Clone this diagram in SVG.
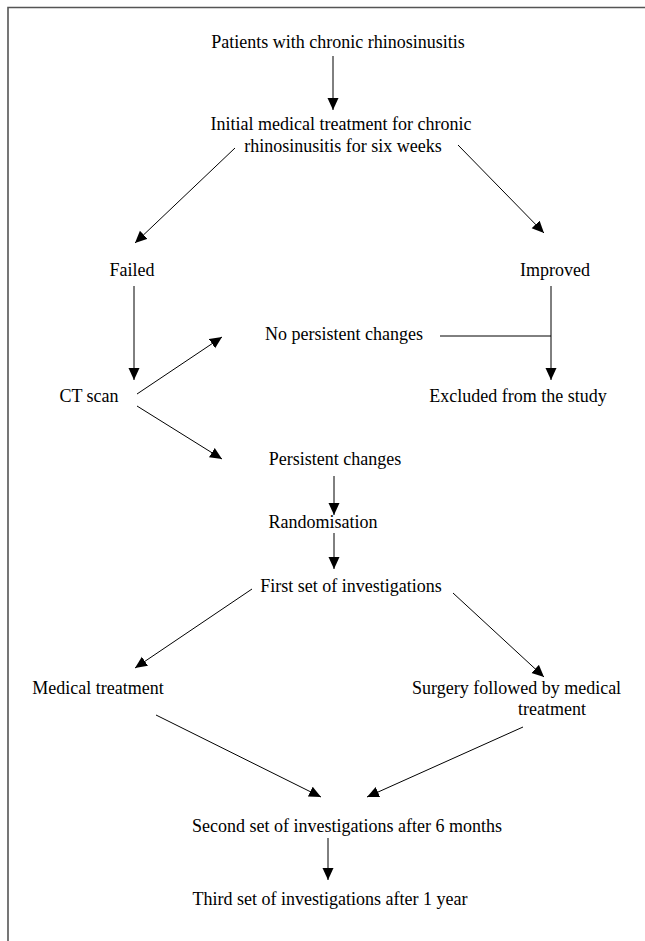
<svg xmlns="http://www.w3.org/2000/svg" width="645" height="941" viewBox="0 0 645 941">
<style>
text{font-family:"Liberation Serif","Times New Roman",serif;font-size:18px;fill:#000}
.c{text-anchor:middle}
.ln{stroke:#000;stroke-width:1;fill:none}
.ar{marker-end:url(#ah)}
</style>
<defs>
<marker id="ah" markerUnits="userSpaceOnUse" markerWidth="13" markerHeight="12" refX="12" refY="6" orient="auto">
<path d="M0,0.5 L12,6 L0,11.5 z" fill="#000"/>
</marker>
</defs>
<rect width="645" height="941" fill="#fff"/>
<path d="M8,941 V7.5 H645" fill="none" stroke="#555" stroke-width="1.6"/>
<g id="n-patients"><text class="c" x="338" y="48">Patients with chronic rhinosinusitis</text></g>
<g id="n-initial"><text class="c" x="341" y="130">Initial medical treatment for chronic</text><text class="c" x="343" y="152">rhinosinusitis for six weeks</text></g>
<g id="n-failed"><text class="c" x="132" y="276">Failed</text></g>
<g id="n-improved"><text class="c" x="555" y="276">Improved</text></g>
<g id="n-nopersistent"><text class="c" x="344" y="340">No persistent changes</text></g>
<g id="n-ctscan"><text class="c" x="89" y="402">CT scan</text></g>
<g id="n-excluded"><text class="c" x="518" y="402">Excluded from the study</text></g>
<g id="n-persistent"><text class="c" x="335" y="465">Persistent changes</text></g>
<g id="n-random"><text class="c" x="323" y="528">Randomisation</text></g>
<g id="n-first"><text class="c" x="351" y="592">First set of investigations</text></g>
<g id="n-medical"><text class="c" x="98" y="694">Medical treatment</text></g>
<g id="n-surgery"><text x="412" y="694">Surgery followed by medical</text><text x="518" y="715">treatment</text></g>
<g id="n-second"><text class="c" x="347" y="832">Second set of investigations after 6 months</text></g>
<g id="n-third"><text class="c" x="330" y="905">Third set of investigations after 1 year</text></g>
<g id="connectors">
<line class="ln ar" x1="333" y1="56" x2="333" y2="110"/>
<line class="ln ar" x1="235" y1="148" x2="135" y2="243"/>
<line class="ln ar" x1="458" y1="145" x2="544" y2="233"/>
<line class="ln ar" x1="134" y1="286" x2="134" y2="380"/>
<line class="ln ar" x1="551" y1="286" x2="551" y2="380"/>
<line class="ln" x1="440" y1="336" x2="551" y2="336"/>
<line class="ln ar" x1="137" y1="394" x2="222" y2="337"/>
<line class="ln ar" x1="137" y1="406" x2="222" y2="459"/>
<line class="ln ar" x1="334" y1="476" x2="334" y2="515"/>
<line class="ln ar" x1="334" y1="533" x2="334" y2="569"/>
<line class="ln ar" x1="252" y1="589" x2="135" y2="668"/>
<line class="ln ar" x1="453" y1="593" x2="544" y2="677"/>
<line class="ln ar" x1="156" y1="715" x2="321" y2="797"/>
<line class="ln ar" x1="523" y1="727" x2="367" y2="797"/>
<line class="ln ar" x1="328" y1="838" x2="328" y2="880"/>
</g>
</svg>
